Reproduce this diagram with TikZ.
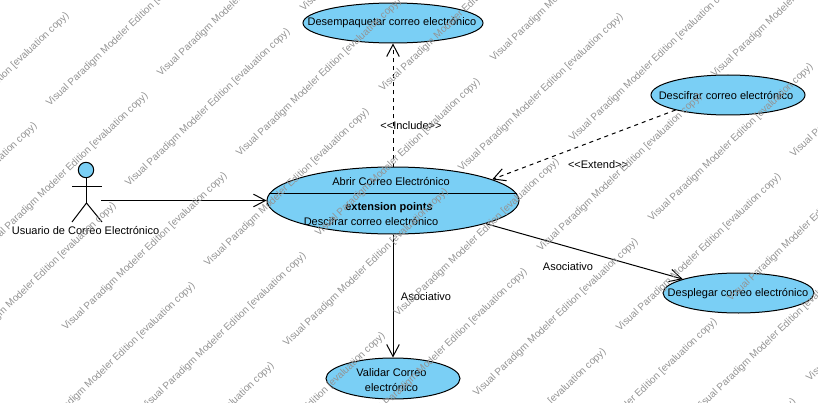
\documentclass[tikz,border=0pt]{standalone}
\usepackage{fontspec}
\setmainfont{Liberation Sans}
\usetikzlibrary{arrows.meta}
\usetikzlibrary{shapes.geometric}

\definecolor{casefill}{RGB}{122,207,245}

\tikzset{
    usecase/.style 2 args={draw,ellipse,fill=casefill,line width=0.75pt,inner sep=0pt,
        minimum width=#1*0.75pt,minimum height=#2*0.75pt},
    casetext/.style={font=\fontsize{8.25}{11.25}\selectfont,align=center,inner sep=0pt,yshift=-0.75pt},
    link/.style={line width=0.75pt,-{Straight Barb[length=9pt,width=9.5pt]}},
    dashlink/.style={link,dash pattern=on 3pt off 3pt},
    stick/.style={line width=0.75pt},
    stamp/.style={font=\fontsize{7.5}{9}\selectfont,text=black!42,rotate=43.7,anchor=west,inner sep=0pt},
}

\begin{document}
\begin{tikzpicture}[x=0.75pt,y=-0.75pt]
    \useasboundingbox (0,0) rectangle (818,403);
    \clip (0,0) rectangle (818,403);
    \fill[white] (0,0) rectangle (818,403);

    \node[usecase={180}{40}] (unpack) at (393,23) {};
    \node[usecase={252}{67}] (open) at (393,200.5) {};
    \node[usecase={154}{40}] (decrypt) at (728,95) {};
    \node[usecase={151}{40}] (show) at (738.5,293) {};
    \node[usecase={134}{41}] (check) at (393,378.5) {};

    \node[casetext] (unpacktext) at (392,22) {Desempaquetar correo electrónico};
    \node[casetext] (opentext) at (391,181) {Abrir Correo Electrónico};
    \node[casetext,font=\fontsize{8.25}{11.25}\selectfont\bfseries] (points) at (389,207) {extension points};
    \node[casetext] (pointtext) at (371,221) {Descifrar correo electrónico};
    \node[casetext] (decrypttext) at (726,95) {Descifrar correo electrónico};
    \node[casetext] (showtext) at (738,293) {Desplegar correo electrónico};
    \node[casetext] (checktext) at (391.5,379.5) {Validar Correo\\electrónico};

    % actor
    \coordinate (neck) at (86.5,178);
    \coordinate (hip) at (86.5,203);
    \coordinate (hand) at (101,200.5);
    \draw[stick,fill=casefill] (86,170) circle (7.7);
    \draw[stick] (neck) -- (hip);
    \draw[stick] (72,186) -- (102,186);
    \draw[stick] (72,222) -- (hip) -- (102,222);
    \node[casetext] (user) at (85.5,230) {Usuario de Correo Electrónico};

    \draw[stick] (open.177) -- (open.3);

    \draw[link] (hand) -- (open.west);
    \draw[dashlink] (open.north) -- (unpack.south);
    \draw[dashlink] (decrypt.196) -- (open.12.5);
    \draw[link] (open.south) -- (check.north);
    \draw[link] (open.-14.6) -- (show.166);

    \node[casetext] (include) at (411,125) {{<}{<}Include{>}{>}};
    \node[casetext] (extend) at (598,164) {{<}{<}Extend{>}{>}};
    \node[casetext] (assocshow) at (568,266) {Asociativo};
    \node[casetext] (assoccheck) at (426,296) {Asociativo};

    % evaluation stamp
    \foreach \x/\y/\c in {-205/199/a,-94/169/b,48/105/c,159/75/d,302/10/e,413/-20/f,555/-84/g} {
        \foreach \k in {0,...,7} {
            \node[stamp] (stamp\c\k) at (\x+79*\k,\y+80*\k) {Visual Paradigm Modeler Edition [evaluation copy)};
        }
    }
\end{tikzpicture}
\end{document}
